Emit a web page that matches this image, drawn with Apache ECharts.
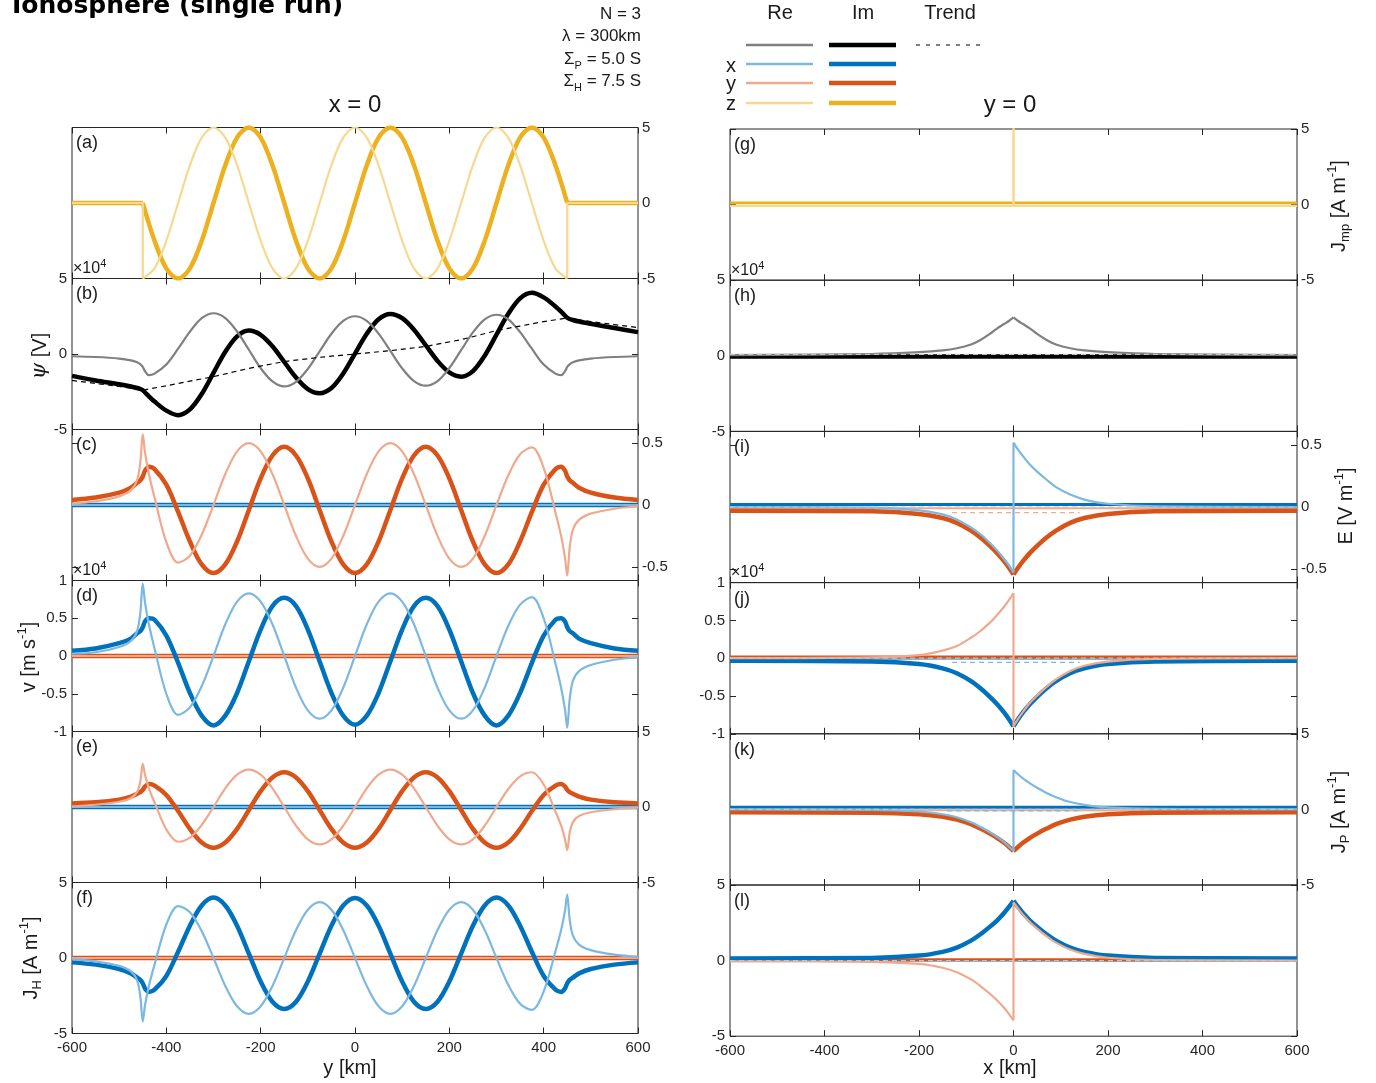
<!DOCTYPE html>
<html><head><meta charset="utf-8">
<script src="https://cdn.jsdelivr.net/npm/echarts@6/dist/echarts.min.js"></script>
<style>html,body{margin:0;padding:0;background:#fff;}#c{width:1376px;height:1083px;}</style>
</head><body><div id="c"></div>
<script>
// ---------------- DATA ----------------
// left column: distance y [km] grid (x = 0 cut)
const LX = [-600,-550,-500,-475,-462,-455,-450,-445,-437,-425,
  -400,-375,-350,-325,-300,-275,-250,-225,-200,-175,-150,-125,-100,-75,-50,-25,0,25,50,75,100,125,150,175,200,225,250,275,300,325,350,375,400,
  425,437,445,450,455,462,475,500,550,600];
const FX = [-600, 600];               // flat-line ends
// (a) J_mp z component
const AX = [-450,-425,-400,-375,-350,-325,-300,-275,-250,-225,-200,-175,-150,-125,-100,-75,-50,-25,0,25,50,75,100,125,150,175,200,225,250,275,300,325,350,375,400,425,450];
const A_IM = [0,-2.5,-4.33,-5,-4.33,-2.5, 0,2.5,4.33,5,4.33,2.5, 0,-2.5,-4.33,-5,-4.33,-2.5, 0,2.5,4.33,5,4.33,2.5, 0,-2.5,-4.33,-5,-4.33,-2.5, 0,2.5,4.33,5,4.33,2.5, 0];
const A_RE = [-5,-4.33,-2.5,0,2.5,4.33, 5,4.33,2.5,0,-2.5,-4.33, -5,-4.33,-2.5,0,2.5,4.33, 5,4.33,2.5,0,-2.5,-4.33, -5,-4.33,-2.5,0,2.5,4.33, 5,4.33,2.5,0,-2.5,-4.33, -5];
const A_FLAT_LX = [-600,-450], A_FLAT_RX = [450,600], A_FLAT = [0,0];
const A_RE_LX = [-600,-450,-450], A_RE_L = [0,0,-5];
const A_RE_RX = [450,450,600], A_RE_R = [-5,0,0];
// (b) psi (x1e4)
const B_RE = [-0.15,-0.2,-0.3,-0.42,-0.55,-0.68,-0.85,-1.15,-1.4,-1.3,
  -0.7,0.35,1.48,2.37,2.7, 2.38,1.49,0.28,-0.94,-1.82, -2.15,-1.84,-0.99,0.18,1.34, 2.19,2.5,2.19,1.35,0.2, -0.95,-1.79,-2.1,-1.79,-0.93, 0.25,1.43,2.29,2.6,2.3, 1.45,0.35,-0.7,
  -1.3,-1.4,-1.15,-0.85,-0.68,-0.55,-0.42,-0.3,-0.2,-0.15];
const B_IM = [-1.45,-1.75,-2.0,-2.15,-2.25,-2.32,-2.4,-2.55,-2.8,-3.15,
  -3.75,-4.05,-3.67,-2.65,-1.25, 0.15,1.17,1.55,1.27,0.51, -0.53,-1.56,-2.32,-2.6,-2.25, -1.29,0.03,1.34,2.3,2.65, 2.37,1.61,0.58,-0.46,-1.22, -1.5,-1.13,-0.11,1.28,2.66, 3.68,4.05,3.75,
  3.15,2.8,2.55,2.4,2.32,2.25,2.15,2.0,1.72,1.45];
const BT_X = [-600,-550,-500,-450,-400,-350,-300,-225,-150,-75,0,75,150,225,300,350,400,450,500,550,600];
const B_TR = [-1.75,-1.95,-2.15,-2.4,-2.1,-1.8,-1.5,-0.95,-0.5,-0.22,0,0.22,0.5,0.95,1.55,1.85,2.15,2.38,2.15,1.95,1.75];
// (c) E at x=0
const C_IM_Y = [0.04,0.06,0.1,0.14,0.18,0.2,0.23,0.28,0.31,0.29,
  0.164,-0.056,-0.295,-0.48,-0.55, -0.48,-0.295,-0.04,0.215,0.40, 0.47,0.40,0.215,-0.04,-0.295, -0.48,-0.55,-0.48,-0.295,-0.04, 0.215,0.40,0.47,0.40,0.215, -0.04,-0.295,-0.48,-0.55,-0.48, -0.295,-0.056,0.164,
  0.29,0.31,0.28,0.23,0.2,0.18,0.14,0.1,0.06,0.04];
const C_RE_Y = [0.01,0.03,0.07,0.12,0.2,0.35,0.57,0.42,0.25,0.06,
  -0.30,-0.465,-0.41,-0.24,0, 0.25,0.433,0.5,0.433,0.25, 0,-0.25,-0.433,-0.5,-0.433, -0.25,0,0.25,0.433,0.5, 0.433,0.25,0,-0.25,-0.433, -0.5,-0.433,-0.25,0,0.24, 0.41,0.465,0.30,
  -0.06,-0.25,-0.42,-0.57,-0.35,-0.2,-0.12,-0.07,-0.03,-0.01];
const C_IM_X = [0,0], C_RE_X = [0,0];
// (d) v (x1e4)
const D_IM_X = [0.07,0.1,0.17,0.23,0.3,0.33,0.38,0.46,0.5,0.48,
  0.27,-0.09,-0.49,-0.79,-0.92, -0.79,-0.49,-0.07,0.35,0.66, 0.77,0.66,0.35,-0.07,-0.49, -0.79,-0.91,-0.79,-0.49,-0.07, 0.35,0.66,0.77,0.66,0.35, -0.07,-0.49,-0.79,-0.92,-0.79, -0.49,-0.09,0.27,
  0.48,0.5,0.46,0.38,0.33,0.3,0.23,0.17,0.1,0.07];
const D_RE_X = [0.03,0.05,0.12,0.2,0.33,0.58,0.96,0.7,0.42,0.1,
  -0.5,-0.78,-0.68,-0.4,0, 0.42,0.72,0.83,0.72,0.42, 0,-0.42,-0.72,-0.83,-0.72, -0.42,0,0.42,0.72,0.83, 0.72,0.42,0,-0.42,-0.72, -0.83,-0.72,-0.42,0,0.4, 0.68,0.78,0.5,
  -0.1,-0.42,-0.7,-0.95,-0.58,-0.33,-0.2,-0.12,-0.05,-0.02];
const D_IM_Y = [0,0], D_RE_Y = [0,0];
// (e) J_P at x=0
const E_IM_Y = [0.24,0.31,0.49,0.69,0.88,0.98,1.13,1.37,1.52,1.42,
  0.8,-0.27,-1.45,-2.35,-2.7, -2.35,-1.45,-0.2,1.05,1.96, 2.3,1.96,1.05,-0.2,-1.45, -2.35,-2.7,-2.35,-1.45,-0.2, 1.05,1.96,2.3,1.96,1.05, -0.2,-1.45,-2.35,-2.7,-2.35, -1.45,-0.27,0.8,
  1.42,1.52,1.37,1.13,0.98,0.88,0.69,0.49,0.31,0.24];
const E_RE_Y = [0.05,0.15,0.35,0.6,1.0,1.73,2.85,2.1,1.24,0.3,
  -1.49,-2.3,-2.03,-1.19,0, 1.24,2.14,2.48,2.14,1.24, 0,-1.24,-2.14,-2.48,-2.14, -1.24,0,1.24,2.14,2.48, 2.14,1.24,0,-1.24,-2.14, -2.48,-2.14,-1.24,0,1.19, 2.03,2.3,1.49,
  -0.3,-1.24,-2.1,-2.85,-1.73,-1.0,-0.6,-0.35,-0.15,-0.05];
const E_IM_X = [0,0], E_RE_X = [0,0];
// (f) J_H at x=0
const F_IM_X = [-0.29,-0.44,-0.73,-1.02,-1.3,-1.45,-1.67,-2.03,-2.25,-2.1,
  -1.19,0.41,2.14,3.48,4.0, 3.48,2.14,0.29,-1.56,-2.9, -3.38,-2.9,-1.56,0.29,2.14, 3.48,3.98,3.48,2.14,0.29, -1.56,-2.9,-3.38,-2.9,-1.56, 0.29,2.14,3.48,4.0,3.48, 2.14,0.41,-1.19,
  -2.1,-2.25,-2.03,-1.67,-1.45,-1.3,-1.02,-0.73,-0.44,-0.29];
const F_RE_X = [-0.07,-0.22,-0.52,-0.89,-1.48,-2.6,-4.2,-3.1,-1.85,-0.44,
  2.22,3.44,3.03,1.78,0, -1.85,-3.2,-3.7,-3.2,-1.85, 0,1.85,3.2,3.7,3.2, 1.85,0,-1.85,-3.2,-3.7, -3.2,-1.85,0,1.85,3.2, 3.7,3.2,1.85,0,-1.78, -3.03,-3.44,-2.22,
  0.44,1.85,3.1,4.2,2.6,1.48,0.89,0.52,0.22,0.07];
const F_IM_Y = [0,0], F_RE_Y = [0,0];

// right column: distance x [km] grid (y = 0 cut); RXJ repeats 0 for jumps
const RX  = [-600,-300,-200,-150,-120,-90,-70,-50,-35,-20,-10,0,10,20,35,50,70,90,120,150,200,300,600];
const RXJ = [-600,-300,-200,-150,-120,-90,-70,-50,-35,-20,-10,0,0,10,20,35,50,70,90,120,150,200,300,600];
// (g) J_mp
const G_IM_Z = [0.12,0.12];
const G_RE_X = [-600,0,0,0,600], G_RE_Z = [-0.08,-0.08,5,-0.08,-0.08];
// (h) psi
const H_IM = [-0.05,-0.05];
const H_RE = [0.04,0.12,0.24,0.36,0.5,0.75,1.05,1.45,1.8,2.1,2.3,2.54,2.3,2.1,1.8,1.45,1.05,0.75,0.5,0.36,0.24,0.12,0.05];
const H_TR = [0.1,0.1];
// (i) E
const I_IM_X = [0.02,0.02], I_RE_Y = [-0.01,-0.01];
const I_IM_Y = [-0.03,-0.035,-0.056,-0.089,-0.128,-0.19,-0.246,-0.313,-0.37,-0.437,-0.488,-0.545,-0.488,-0.437,-0.37,-0.313,-0.246,-0.19,-0.128,-0.089,-0.056,-0.035,-0.03];
const I_RE_X = [0,-0.005,-0.027,-0.06,-0.10,-0.165,-0.22,-0.29,-0.35,-0.42,-0.47,-0.53, 0.52,0.46,0.41,0.34,0.285,0.22,0.16,0.10,0.06,0.026,0.005,0];
const I_TR_X = [-130,140], I_TR = [-0.045,-0.045];
// (j) v (x1e4)
const J_RE_X = [-0.01,-0.01], J_IM_Y = [0.015,0.015];
const J_IM_X = [-0.035,-0.044,-0.078,-0.134,-0.199,-0.303,-0.398,-0.511,-0.606,-0.718,-0.805,-0.9,-0.805,-0.718,-0.606,-0.511,-0.398,-0.303,-0.199,-0.134,-0.078,-0.044,-0.035];
const J_RE_Y = [0,0.01,0.04,0.1,0.16,0.27,0.36,0.47,0.57,0.68,0.765,0.86, -0.9,-0.80,-0.71,-0.59,-0.495,-0.38,-0.28,-0.17,-0.10,-0.045,-0.01,0];
const J_TR_X = [-130,140], J_TR = [-0.055,-0.055];
// (k) J_P
const K_IM_X = [0.15,0.15], K_RE_Y = [-0.05,-0.05];
const K_IM_Y = [-0.19,-0.22,-0.32,-0.48,-0.68,-0.98,-1.27,-1.60,-1.88,-2.21,-2.47,-2.75,-2.47,-2.21,-1.88,-1.60,-1.27,-0.98,-0.68,-0.48,-0.32,-0.22,-0.19];
const K_RE_X = [0,-0.03,-0.14,-0.32,-0.52,-0.85,-1.16,-1.51,-1.82,-2.17,-2.45,-2.75, 2.6,2.31,2.05,1.72,1.43,1.09,0.81,0.49,0.30,0.13,0.03,0];
const K_TR_X = [-140,140], K_TR = [-0.1,-0.1];
// (l) J_H
const L_RE_X = [-0.03,-0.03], L_IM_Y = [0.05,0.05];
const L_IM_X = [0.14,0.18,0.33,0.58,0.86,1.32,1.74,2.24,2.65,3.15,3.53,3.95,3.53,3.15,2.65,2.24,1.74,1.32,0.86,0.58,0.33,0.18,0.14];
const L_RE_Y = [-0.05,-0.08,-0.22,-0.47,-0.77,-1.24,-1.68,-2.19,-2.62,-3.12,-3.52,-3.95, 3.85,3.43,3.04,2.54,2.12,1.62,1.19,0.73,0.44,0.19,0.04,0];
const L_TR_X = [-170,170], L_TR = [-0.05,-0.05];
const ZERO = [0,0];

// ---------------- STYLE / LAYOUT ----------------
const FONT = "'Liberation Sans', Arial, Helvetica, sans-serif";
const TXT = '#262626';
const XD='#0072BD', XL='#7DB8E0', YD='#D95319', YL='#F0A98C', ZD='#EDB120', ZL='#F6D88F', BK='#000000', GR='#808080', TRG='#c4c4c4';
const W_IM = 4.5, W_RE = 2.2;
const PANELS = [
  {col:0,row:0,min:-5,max:5,side:'right',ticks:[-5,0,5],tag:'(a)'},
  {col:0,row:1,min:-5,max:5,side:'left',ticks:[-5,0,5],tag:'(b)',exp:true},
  {col:0,row:2,min:-0.61,max:0.61,side:'right',ticks:[-0.5,0,0.5],tag:'(c)'},
  {col:0,row:3,min:-1,max:1,side:'left',ticks:[-1,-0.5,0,0.5,1],tag:'(d)',exp:true},
  {col:0,row:4,min:-5,max:5,side:'right',ticks:[-5,0,5],tag:'(e)'},
  {col:0,row:5,min:-5,max:5,side:'left',ticks:[-5,0,5],tag:'(f)'},
  {col:1,row:0,min:-5,max:5,side:'right',ticks:[-5,0,5],tag:'(g)'},
  {col:1,row:1,min:-5,max:5,side:'left',ticks:[-5,0,5],tag:'(h)',exp:true},
  {col:1,row:2,min:-0.61,max:0.61,side:'right',ticks:[-0.5,0,0.5],tag:'(i)'},
  {col:1,row:3,min:-1,max:1,side:'left',ticks:[-1,-0.5,0,0.5,1],tag:'(j)',exp:true},
  {col:1,row:4,min:-5,max:5,side:'right',ticks:[-5,0,5],tag:'(k)'},
  {col:1,row:5,min:-5,max:5,side:'left',ticks:[-5,0,5],tag:'(l)'}
];
function geom(p){
  const h = p.col ? 151.2 : 151;
  return {left: p.col ? 730 : 72, width: p.col ? 567 : 566, height: h, top: (p.col ? 129 : 127.5) + h * p.row};
}
const grids=[], xAxes=[], yAxes=[], S=[], G=[];
PANELS.forEach((p,g)=>{
  const q = geom(p);
  grids.push({left:q.left, top:q.top, width:q.width, height:q.height, show:true, borderColor:TXT, borderWidth:1, backgroundColor:'rgba(0,0,0,0)'});
  const tick = {show:true, inside:true, length:6, lineStyle:{color:TXT, width:1}};
  const xb = {gridIndex:g, type:'value', min:-600, max:600, interval:200, axisLine:{show:false,onZero:false}, axisTick:tick, splitLine:{show:false}};
  xAxes.push(Object.assign({}, xb, {position:'bottom', axisLabel:{show:p.row===5, color:TXT, fontSize:15, fontFamily:FONT, margin:7}}));
  xAxes.push(Object.assign({}, xb, {position:'top', axisLabel:{show:false}}));
  ['left','right'].forEach(side=>{
    yAxes.push({gridIndex:g, type:'value', position:side, min:p.min, max:p.max,
      axisLine:{show:false,onZero:false}, splitLine:{show:false},
      axisTick:Object.assign({customValues:p.ticks}, tick),
      axisLabel:{show: side===p.side, customValues:p.ticks, color:TXT, fontSize:15, fontFamily:FONT, margin: side==='left'?5:4}});
  });
});
const SM = {smooth:0.33};
const SPLIT = {smooth:0.33, split:true};   // smooth each side of the x=0 cusp separately
const DASH = {dash:true};
function pushLine(g, data, color, width, extra){
  S.push({type:'line', xAxisIndex:2*g, yAxisIndex:2*g, data,
    symbol:'none', showSymbol:false, smooth: extra.smooth || false, silent:true, animation:false, clip:true,
    emphasis:{disabled:true},
    lineStyle:{color, width, cap:'butt', join:'round', type: extra.dash ? [5,4] : 'solid'}});
}
function add(g, xs, ys, color, width, extra){
  if (xs.length !== ys.length) throw new Error('length mismatch in panel '+g+': '+xs.length+' vs '+ys.length);
  extra = extra || {};
  const data = xs.map((x,i)=>[x, ys[i]]);
  if (extra.split) {
    const i0 = xs.indexOf(0), i1 = xs.lastIndexOf(0);
    pushLine(g, data.slice(0, i0+1), color, width, extra);
    pushLine(g, data.slice(i1), color, width, extra);
    if (i1 > i0) pushLine(g, data.slice(i0, i1+1), color, width, {});
  } else pushLine(g, data, color, width, extra);
}
// (a)
add(0, A_FLAT_LX, A_FLAT, ZD, W_IM); add(0, A_FLAT_RX, A_FLAT, ZD, W_IM); add(0, AX, A_IM, ZD, W_IM, SM);
add(0, A_RE_LX, A_RE_L, ZL, W_RE); add(0, A_RE_RX, A_RE_R, ZL, W_RE); add(0, AX, A_RE, ZL, W_RE, SM);
// (b)
add(1, LX, B_IM, BK, W_IM, SM); add(1, LX, B_RE, GR, W_RE, SM); add(1, BT_X, B_TR, BK, 1.2, DASH);
// (c)
add(2, FX, C_IM_X, XD, W_IM); add(2, FX, C_RE_X, XL, W_RE); add(2, LX, C_IM_Y, YD, W_IM, SM); add(2, LX, C_RE_Y, YL, W_RE, SM);
// (d)
add(3, FX, D_IM_Y, YD, W_IM); add(3, FX, D_RE_Y, YL, W_RE); add(3, LX, D_IM_X, XD, W_IM, SM); add(3, LX, D_RE_X, XL, W_RE, SM);
// (e)
add(4, FX, E_IM_X, XD, W_IM); add(4, FX, E_RE_X, XL, W_RE); add(4, LX, E_IM_Y, YD, W_IM, SM); add(4, LX, E_RE_Y, YL, W_RE, SM);
// (f)
add(5, FX, F_IM_Y, YD, W_IM); add(5, FX, F_RE_Y, YL, W_RE); add(5, LX, F_IM_X, XD, W_IM, SM); add(5, LX, F_RE_X, XL, W_RE, SM);
// (g)
add(6, FX, G_IM_Z, ZD, 2.5); add(6, G_RE_X, G_RE_Z, ZL, 2.5);
// (h)
add(7, FX, H_IM, BK, W_IM); add(7, RX, H_RE, GR, W_RE, SPLIT); add(7, FX, H_TR, TRG, 1.2, DASH);
// (i)
add(8, FX, I_IM_X, XD, 3); add(8, FX, I_RE_Y, YL, 2); add(8, RX, I_IM_Y, YD, W_IM, SPLIT); add(8, RXJ, I_RE_X, XL, W_RE, SPLIT);
add(8, FX, ZERO, TRG, 1.2, DASH); add(8, I_TR_X, I_TR, YL, 1.2, DASH);
// (j)
add(9, FX, J_RE_X, XL, 2); add(9, FX, J_IM_Y, YD, 3); add(9, RX, J_IM_X, XD, W_IM, SPLIT); add(9, RXJ, J_RE_Y, YL, W_RE, SPLIT);
add(9, FX, ZERO, TRG, 1.2, DASH); add(9, J_TR_X, J_TR, XL, 1.2, DASH);
// (k)
add(10, FX, K_IM_X, XD, 3); add(10, FX, K_RE_Y, YL, 2); add(10, RX, K_IM_Y, YD, W_IM, SPLIT); add(10, RXJ, K_RE_X, XL, W_RE, SPLIT);
add(10, FX, ZERO, TRG, 1.2, DASH); add(10, K_TR_X, K_TR, XL, 1.2, DASH);
// (l)
add(11, FX, L_RE_X, XL, 2); add(11, FX, L_IM_Y, YD, 3); add(11, RX, L_IM_X, XD, W_IM, SPLIT); add(11, RXJ, L_RE_Y, YL, W_RE, SPLIT);
add(11, FX, ZERO, TRG, 1.2, DASH); add(11, L_TR_X, L_TR, XL, 1.2, DASH);

// ---------------- TEXT / LEGEND GRAPHICS ----------------
const INK = '#1a1a1a';
function T(x, y, text, size, o){
  o = o || {};
  const st = {text, fontSize:size, fontFamily:o.family||FONT, fontWeight:o.weight||'normal', fontStyle:o.fstyle||'normal',
    fill:o.fill||INK, align:o.align||'left', verticalAlign:o.va||'middle', textAlign:o.align||'left', textVerticalAlign:o.va||'middle'};
  if (o.rich) st.rich = o.rich;
  return {type:'text', x, y, rotation:o.rot||0, silent:true, z:100, style:st};
}
function L(x1, x2, y, color, w, dash){
  return {type:'line', silent:true, z:100, shape:{x1, y1:y, x2, y2:y}, style:{stroke:color, lineWidth:w, lineDash: dash||null}};
}
const rs = (sz, lh, extra) => Object.assign({fontSize:sz, lineHeight:lh, fontFamily:FONT, fill:INK, color:INK}, extra||{});
const RICH_AX = {n: rs(20,26), sup: rs(13,13,{verticalAlign:'top'}), sub: rs(13,13,{verticalAlign:'bottom'}),
  psi: rs(21,26,{fontFamily:"'DejaVu Serif', serif", fontStyle:'italic'})};
const RICH_P = {m: rs(17,24), s: rs(11,11,{verticalAlign:'bottom'})};
const RICH_E = {a: rs(16,20), b: rs(11,11,{verticalAlign:'top'})};

G.push(T(12, 6, 'Ionosphere (single run)', 25, {weight:'bold', family:"'DejaVu Sans', sans-serif", fill:'#000'}));
G.push(T(641, 14, 'N = 3', 17, {align:'right'}));
G.push(T(641, 36, 'λ = 300km', 17, {align:'right'}));
G.push(T(641, 59, '{m|Σ}{s|P}{m| = 5.0 S}', 17, {align:'right', rich:RICH_P}));
G.push(T(641, 81, '{m|Σ}{s|H}{m| = 7.5 S}', 17, {align:'right', rich:RICH_P}));
G.push(T(355, 105, 'x = 0', 24, {align:'center'}));
G.push(T(1010, 105, 'y = 0', 24, {align:'center'}));
// legend block
G.push(T(780, 13, 'Re', 20, {align:'center'}));
G.push(T(863, 13, 'Im', 20, {align:'center'}));
G.push(T(950, 13, 'Trend', 20, {align:'center'}));
G.push(L(746, 813, 45, GR, 2.5)); G.push(L(829, 896, 45, BK, 4.5)); G.push(L(916, 985, 45, BK, 1.2, [4,6]));
G.push(T(731, 66, 'x', 20, {align:'center'})); G.push(L(746, 813, 64, XL, 2.5)); G.push(L(829, 896, 64, XD, 4.5));
G.push(T(731, 84, 'y', 20, {align:'center'})); G.push(L(746, 813, 83, YL, 2.5)); G.push(L(829, 896, 83, YD, 4.5));
G.push(T(731, 104, 'z', 20, {align:'center'})); G.push(L(746, 813, 103, ZL, 2.5)); G.push(L(829, 896, 103, ZD, 4.5));
// panel tags and exponents
PANELS.forEach(p=>{
  const q = geom(p);
  G.push(T(q.left + 4, q.top + 16, p.tag, 18));
  if (p.exp) G.push(T(q.left + 1, q.top - 10, '{a|×10}{b|4}', 16, {rich:RICH_E}));
});
// axis titles
const R90 = Math.PI/2;
G.push(T(40, 356, '{psi|ψ}{n| [V]}', 20, {align:'center', rot:R90, rich:RICH_AX}));
G.push(T(29, 657, '{n|v [m s}{sup|-1}{n|]}', 20, {align:'center', rot:R90, rich:RICH_AX}));
G.push(T(31, 958, '{n|J}{sub|H}{n| [A m}{sup|-1}{n|]}', 20, {align:'center', rot:R90, rich:RICH_AX}));
G.push(T(1339, 206, '{n|J}{sub|mp}{n| [A m}{sup|-1}{n|]}', 20, {align:'center', rot:R90, rich:RICH_AX}));
G.push(T(1346, 506, '{n|E [V m}{sup|-1}{n|]}', 20, {align:'center', rot:R90, rich:RICH_AX}));
G.push(T(1339, 812, '{n|J}{sub|P}{n| [A m}{sup|-1}{n|]}', 20, {align:'center', rot:R90, rich:RICH_AX}));
G.push(T(350, 1068, 'y [km]', 20, {align:'center'}));
G.push(T(1010, 1068, 'x [km]', 20, {align:'center'}));

const chart = echarts.init(document.getElementById('c'), null, {renderer:'canvas'});
chart.setOption({animation:false, backgroundColor:'#ffffff', grid:grids, xAxis:xAxes, yAxis:yAxes, series:S, graphic:{elements:G}});
</script></body></html>
